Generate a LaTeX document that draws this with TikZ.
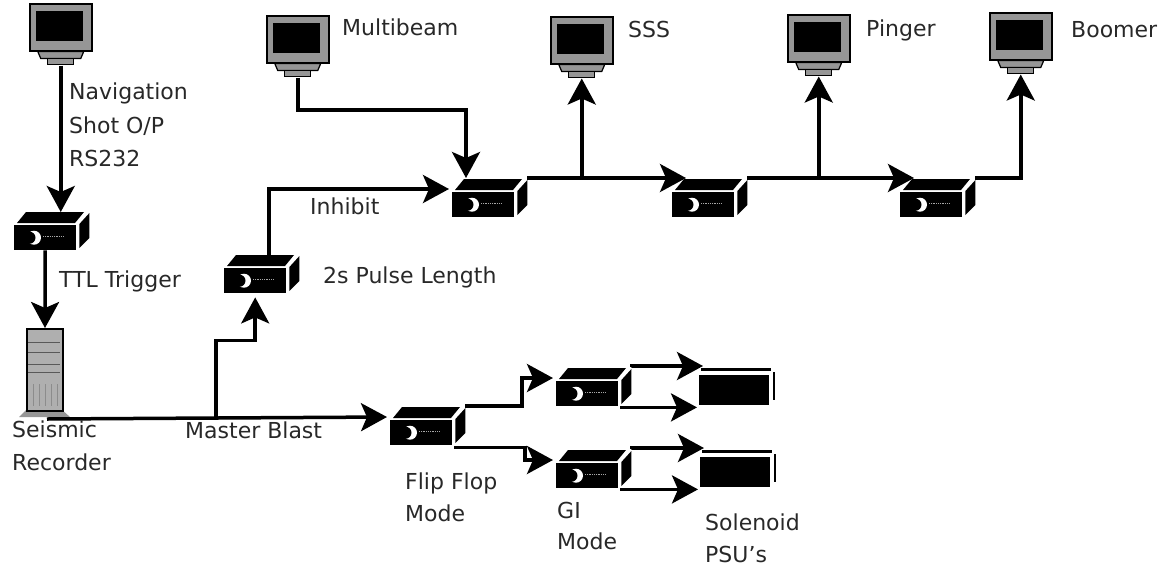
\documentclass[tikz,border=0pt]{standalone}
\usepackage{fontspec}
\setmainfont{DejaVu Sans}
\usetikzlibrary{arrows.meta,calc}
\definecolor{casegrey}{RGB}{150,150,150}
\definecolor{towergrey}{RGB}{175,175,175}
\definecolor{textgrey}{RGB}{40,40,40}

% black box: front face is the named node, the other faces hang off its corners
\newcommand{\trigbox}[3]{%
  \node[trigface] (#1) at (#2,#3) {};
  \fill[black] ($(#1.north west)+(3,-2)$) -- ++(9,-11) -- ++(58,0) -- ++(-9,11) -- cycle;
  \fill[black] ($(#1.north east)+(3,-1)$) -- ++(10,-11) -- ++(0,25) -- ++(-10,10) -- cycle;
  \fill[white] ($(#1.west)+(20,0)$) circle (7);
  \fill[black] ($(#1.west)+(15.5,0)$) circle (6);
  \draw[black!35, densely dotted, line width=.8pt] ($(#1.west)+(29,-1)$) -- ++(20,0);
  \coordinate (#1-in) at ($(#1.north west)+(-3,-3)$);
  \coordinate (#1-lid) at ($(#1.north west)+(14,-14)$);
  \coordinate (#1-out) at ($(#1.north east)+(13,-14)$);
}
% monitor: the named node is the case
\newcommand{\screenbox}[3]{%
  \node[screenface] (#1) at (#2,#3) {};
  \fill[black] ($(#1.north west)+(7,8)$) rectangle ++(47,30);
  \draw[line width=1.2pt, fill=casegrey] ($(#1.south)+(-23,0)$) -- ++(46,0) -- ++(-3,7) -- ++(-40,0) -- cycle;
  \draw[line width=1.2pt, fill=casegrey] ($(#1.south)+(-13,7)$) rectangle ++(26,6);
  \coordinate (#1-foot) at ($(#1.south)+(0,14)$);
}
% load: front is the named node, with a lid line and a side line
\newcommand{\psubox}[3]{%
  \node[psuface] (#1) at (#2,#3) {};
  \draw[line width=3pt] ($(#1.north west)+(2,-6)$) -- ++(70,0);
  \draw[line width=2pt] ($(#1.north east)+(5,-3)$) -- ++(0,28);
  \coordinate (#1-up) at ($(#1.north west)+(4,-9)$);
  \coordinate (#1-low) at ($(#1.south west)+(-2,2)$);
}

\begin{document}
\begin{tikzpicture}[
  x=1pt, y=-1pt, >=Stealth,
  trigface/.style={fill=black, minimum width=62pt, minimum height=25pt, inner sep=0pt, anchor=north west},
  screenface/.style={draw, line width=1.5pt, fill=casegrey, minimum width=62pt, minimum height=47pt, inner sep=0pt, anchor=north west},
  psuface/.style={fill=black, minimum width=70pt, minimum height=30pt, inner sep=0pt, anchor=north west},
  towerface/.style={draw, line width=2pt, fill=towergrey, minimum width=36pt, minimum height=82pt, inner sep=0pt, anchor=north west},
  link/.style={draw, line width=3.5pt, -{Stealth[length=26pt, width=28pt, inset=6pt]}},
  lbl/.style={font=\fontsize{22}{22}\selectfont, text=textgrey, inner sep=0pt, anchor=base west}
]
\useasboundingbox (0,0) rectangle (1171,566);

% recorder
\fill[casegrey] (28,408) -- (60,408) -- (70,417) -- (19,417) -- cycle;
\node[towerface] (rec) at (26,328) {};
\foreach \yy in {342,352,364,372} \draw[line width=.8pt, black!65] ($(rec.north west)+(2,\yy-328)$) -- ++(32,0);
\foreach \xx in {33,39,45,51,57} \draw[line width=.8pt, black!45] ($(rec.north west)+(\xx-26,56)$) -- ++(0,22);

% monitors
\screenbox{nav}{29}{3}
\screenbox{multi}{266}{15}
\screenbox{sss}{550}{16}
\screenbox{ping}{787}{14}
\screenbox{boom}{989}{12}

% boxes
\trigbox{ttl}{14}{225}
\trigbox{pulse}{224}{268}
\trigbox{top1}{452}{192}
\trigbox{top2}{672}{192}
\trigbox{top3}{900}{192}
\trigbox{flip}{390}{420}
\trigbox{gi1}{556}{381}
\trigbox{gi2}{556}{463}
\psubox{psu1}{699}{375}
\psubox{psu2}{700}{457}

% upper chain
\draw[link] (nav-foot) -- ($(ttl.north -| nav-foot)+(0,-13)$);
\draw[link] (ttl.south) -- (rec.north);
\draw[link] (multi-foot) |- ($(top1-lid)+(0,-68)$) -- (top1-lid);
\draw[link] ($(pulse.north)+(14,-13)$) |- (top1-in);
\draw[link] (top1-out) -- (top2-lid);
\draw[link] (top2-out) -- (top3-lid);
\draw[link] (top1-out -| sss-foot) -- (sss-foot);
\draw[link] (top2-out -| ping-foot) -- (ping-foot);
\draw[link] (top3-out) -| (boom-foot);

% lower chain
\draw[link] ($(rec.south)+(2,7)$) -- (flip-in);
\coordinate (blast) at (216,417);
\draw[link] (blast) |- ($(pulse.south)+(0,47)$) -- ($(pulse.south)+(0,4)$);
\draw[link] (flip-out) -| ($(gi1-in)+(-31,0)$) -- (gi1-in);
\draw[link] ($(flip.south east)+(2,2)$) -| ($(gi2-in)+(-28,0)$) -- (gi2-in);
\draw[link] (gi1-out) -- (psu1-up -| gi1-out) -- (psu1-up);
\draw[link] ($(gi1.south east)+(2,1)$) -- (psu1-low);
\draw[link] (gi2-out) -- (psu2-up -| gi2-out) -- (psu2-up);
\draw[link] ($(gi2.south east)+(2,1)$) -- (psu2-low);

% labels
\node[lbl] (t1) at (69,99) {Navigation};
\node[lbl] (t2) at (69,133) {Shot O/P};
\node[lbl] (t3) at (69,166) {RS232};
\node[lbl] (t4) at (59,287) {TTL Trigger};
\node[lbl] (t5) at (342,35) {Multibeam};
\node[lbl] (t6) at (628,37) {SSS};
\node[lbl] (t7) at (866,36) {Pinger};
\node[lbl] (t8) at (1071,37) {Boomer};
\node[lbl] (t9) at (310,214) {Inhibit};
\node[lbl] (t10) at (323,283) {2s Pulse Length};
\node[lbl] (t11) at (12,437) {Seismic};
\node[lbl] (t12) at (12,470) {Recorder};
\node[lbl] (t13) at (185,438) {Master Blast};
\node[lbl] (t14) at (405,489) {Flip Flop};
\node[lbl] (t15) at (405,521) {Mode};
\node[lbl] (t16) at (557,518) {GI};
\node[lbl] (t17) at (557,549) {Mode};
\node[lbl] (t18) at (705,530) {Solenoid};
\node[lbl] (t19) at (705,562) {PSU's};
\end{tikzpicture}
\end{document}
